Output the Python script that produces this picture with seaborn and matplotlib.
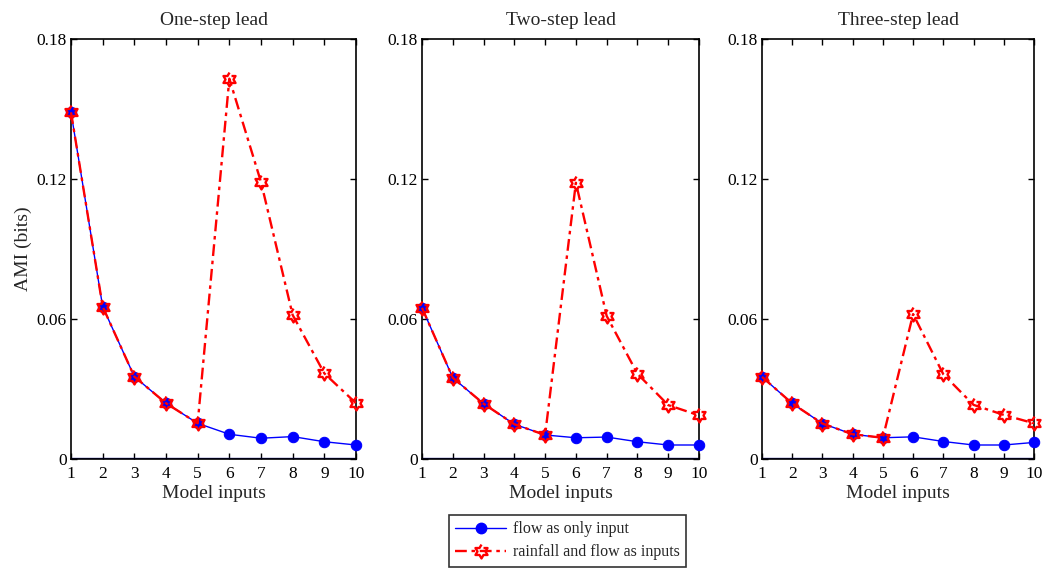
import numpy as np
import pandas as pd
import matplotlib
matplotlib.use("Agg")
import matplotlib.pyplot as plt
from matplotlib.lines import Line2D
import seaborn as sns

# --- Data ---
inputs = list(range(1, 11))
titles = ["One-step lead", "Two-step lead", "Three-step lead"]

flow_one = [0.1486, 0.0653, 0.0353, 0.0239, 0.0153, 0.0106, 0.0089, 0.0096, 0.0074, 0.0060]
rain_one = [0.1486, 0.0653, 0.0353, 0.0239, 0.0153, 0.1630, 0.1187, 0.0617, 0.0367, 0.0239]

flow_two = [0.0648, 0.0348, 0.0237, 0.0149, 0.0103, 0.0091, 0.0094, 0.0074, 0.0060, 0.0060]
rain_two = [0.0648, 0.0348, 0.0237, 0.0149, 0.0103, 0.1184, 0.0613, 0.0365, 0.0231, 0.0187]

flow_three = [0.0352, 0.0238, 0.0152, 0.0106, 0.0091, 0.0095, 0.0075, 0.0060, 0.0060, 0.0071]
rain_three = [0.0352, 0.0238, 0.0152, 0.0106, 0.0091, 0.0621, 0.0363, 0.0232, 0.0189, 0.0153]

flow_series = [flow_one, flow_two, flow_three]
rain_series = [rain_one, rain_two, rain_three]

yticks = [0, 0.06, 0.12, 0.18]
ytick_labels = ["0", "0.06", "0.12", "0.18"]

# --- Style ---
sns.set_style("ticks")
plt.rcParams["font.family"] = ["Liberation Serif", "DejaVu Serif"]

# hexagram marker (two overlapping triangles)
ang = np.deg2rad(np.arange(12) * 30 + 90)
rad = np.where(np.arange(12) % 2 == 0, 1.0, 1 / np.sqrt(3))
hexagram = list(zip(rad * np.cos(ang), rad * np.sin(ang)))

red_kw = dict(color="red", lw=1.7, dashes=(5, 2, 1.5, 2), marker=hexagram,
              markersize=10, markerfacecolor="none", markeredgecolor="red",
              markeredgewidth=1.7)
blue_kw = dict(color="blue", lw=1.0, linestyle="-", marker="o", markersize=7.5,
               markerfacecolor="blue", markeredgecolor="blue")

fig = plt.figure(figsize=(10.49, 5.72), dpi=100)
positions = [
    [71 / 1049, 113 / 572, 285 / 1049, 420 / 572],
    [422 / 1049, 113 / 572, 277 / 1049, 420 / 572],
    [762 / 1049, 113 / 572, 272 / 1049, 420 / 572],
]

for i, (title, flow, rain) in enumerate(zip(titles, flow_series, rain_series)):
    ax = fig.add_axes(positions[i])
    df = pd.DataFrame({"inputs": inputs, "flow": flow, "rain": rain})
    sns.lineplot(data=df, x="inputs", y="flow", ax=ax, clip_on=False, zorder=3, **blue_kw)
    sns.lineplot(data=df, x="inputs", y="rain", ax=ax, clip_on=False, zorder=4, **red_kw)
    ax.axhline(0, color="#00007f", lw=2.4, zorder=2)

    ax.set_xlim(1, 10)
    ax.set_ylim(0, 0.18)
    ax.set_xticks(inputs)
    ax.set_yticks(yticks)
    ax.set_yticklabels(ytick_labels)
    ax.tick_params(direction="in", length=4, width=1, top=True, right=True,
                   labelsize=12.5, pad=5, colors="black")
    ax.tick_params(axis="y", pad=3)
    for s in ax.spines.values():
        s.set_linewidth(1.2)
        s.set_color("black")
        s.set_visible(True)
    ax.set_title(title, fontsize=14, pad=10)
    ax.set_xlabel("Model inputs", fontsize=14, labelpad=2)
    if i == 0:
        ax.set_ylabel("AMI (bits)", fontsize=14, labelpad=3)
    else:
        ax.set_ylabel("")

handles = [
    Line2D([], [], **blue_kw),
    Line2D([], [], **red_kw),
]
labels = ["flow as only input", "rainfall and flow as inputs"]
leg = fig.legend(handles, labels, loc="lower center", bbox_to_anchor=(0.541, 0.009),
                 borderaxespad=0, frameon=True, fancybox=False, edgecolor="black",
                 fontsize=11.5, handlelength=3.2, borderpad=0.4, labelspacing=0.45,
                 handletextpad=0.4)
leg.get_frame().set_linewidth(1.2)

fig.savefig("out.png", dpi=100)
